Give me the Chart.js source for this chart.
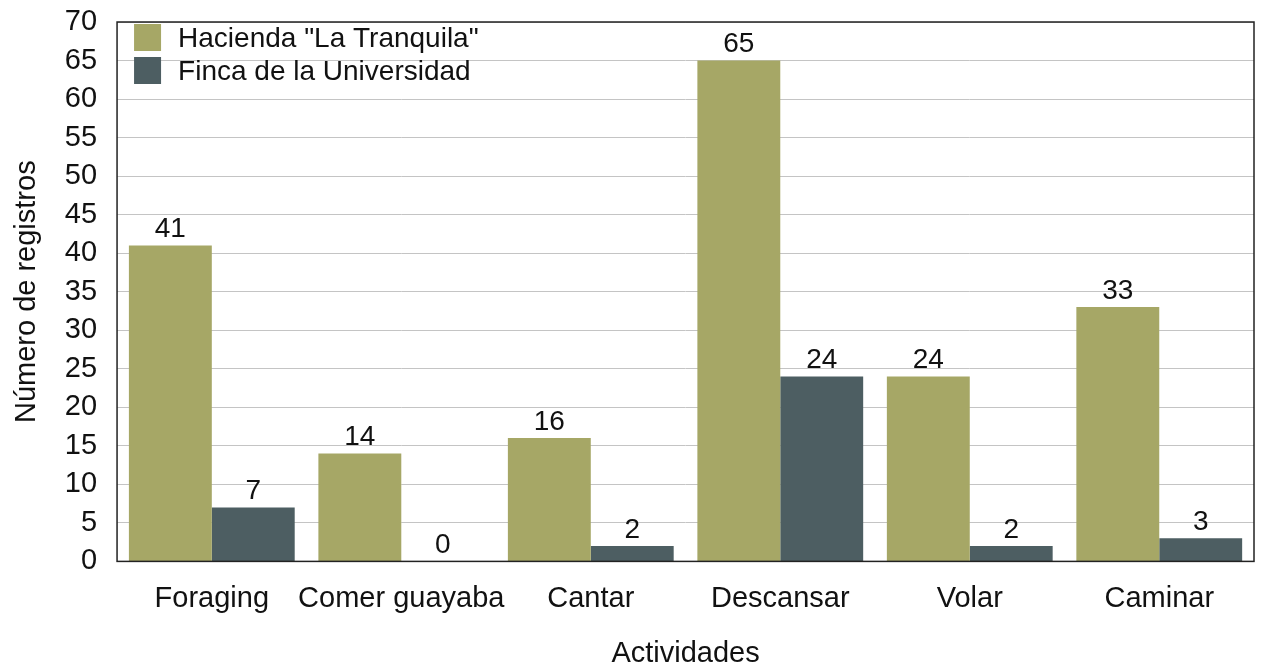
<!DOCTYPE html>
<html lang="es">
<head>
<meta charset="UTF-8">
<title>Actividades</title>
<script src="https://cdn.jsdelivr.net/npm/chart.js"></script>
<style>
    body { margin: 0; background: #fff; overflow: hidden; }
</style>
</head>
<body>
<canvas id="chart" width="1267" height="664"></canvas>
<script>
const categories = ['Foraging', 'Comer guayaba', 'Cantar', 'Descansar', 'Volar', 'Caminar'];
const hacienda = [41, 14, 16, 65, 24, 33];
const finca = [7, 0, 2, 24, 2, 3];
const seriesNames = ['Hacienda "La Tranquila"', 'Finca de la Universidad'];
const yTicks = [0, 5, 10, 15, 20, 25, 30, 35, 40, 45, 50, 55, 60, 65, 70];

const FONT = 'Liberation Sans, Arial, Helvetica, sans-serif';
const SIZE = 29;

// numbers above bars
const valueLabels = {
    id: 'valueLabels',
    afterDatasetsDraw(chart) {
        const ctx = chart.ctx;
        ctx.save();
        ctx.font = '28px ' + FONT;
        ctx.fillStyle = '#111';
        ctx.textAlign = 'center';
        ctx.textBaseline = 'bottom';
        chart.data.datasets.forEach((ds, i) => {
            chart.getDatasetMeta(i).data.forEach((bar, j) => {
                ctx.fillText(ds.data[j], bar.x, bar.y - 2);
            });
        });
        ctx.restore();
    }
};

// legend inside the plot, top-left
const innerLegend = {
    id: 'innerLegend',
    afterDraw(chart) {
        const ctx = chart.ctx;
        const a = chart.chartArea;
        ctx.save();
        ctx.font = '28px ' + FONT;
        ctx.textBaseline = 'middle';
        chart.data.datasets.forEach((ds, i) => {
            const y = a.top + 16 + i * 33;
            ctx.fillStyle = ds.backgroundColor;
            ctx.fillRect(a.left + 17, y - 14, 27, 27);
            ctx.fillStyle = '#111';
            ctx.fillText(ds.label, a.left + 61, y + 1);
        });
        ctx.restore();
    }
};

// black frame round the plot
const frame = {
    id: 'frame',
    afterDatasetsDraw(chart) {
        const a = chart.chartArea;
        const ctx = chart.ctx;
        ctx.save();
        ctx.strokeStyle = '#222';
        ctx.lineWidth = 1.5;
        ctx.strokeRect(a.left, a.top, a.right - a.left, a.bottom - a.top);
        ctx.restore();
    }
};

new Chart(document.getElementById('chart'), {
    type: 'bar',
    data: {
        labels: categories,
        datasets: [
            { label: seriesNames[0], data: hacienda, backgroundColor: '#a6a766' },
            { label: seriesNames[1], data: finca, backgroundColor: '#4d5e62' }
        ]
    },
    options: {
        responsive: false,
        animation: false,
        layout: { padding: { top: 22, right: 13, left: 10, bottom: -7 } },
        datasets: { bar: { categoryPercentage: 0.875, barPercentage: 1 } },
        plugins: {
            legend: { display: false },
            tooltip: { enabled: false }
        },
        scales: {
            x: {
                grid: { display: false, drawTicks: false },
                border: { display: false },
                ticks: { color: '#111', font: { family: FONT, size: SIZE }, padding: 20,
                         maxRotation: 0, minRotation: 0, autoSkip: false },
                title: { display: true, text: 'Actividades', color: '#111',
                         font: { family: FONT, size: SIZE }, padding: { top: 0, bottom: 0 } }
            },
            y: {
                min: 0, max: 70,
                afterBuildTicks(scale) { scale.ticks = yTicks.map(v => ({ value: v })); },
                afterFit(scale) { scale.paddingTop = 0; scale.paddingBottom = 0; },
                grid: { color: '#c4c4c4', lineWidth: 1, drawTicks: false },
                border: { display: false },
                ticks: { color: '#111', font: { family: FONT, size: SIZE }, padding: 20, autoSkip: false },
                title: { display: true, text: 'Número de registros', color: '#111',
                         font: { family: FONT, size: SIZE }, padding: { top: 0, bottom: 0 } }
            }
        }
    },
    plugins: [valueLabels, frame, innerLegend]
});
</script>
</body>
</html>
